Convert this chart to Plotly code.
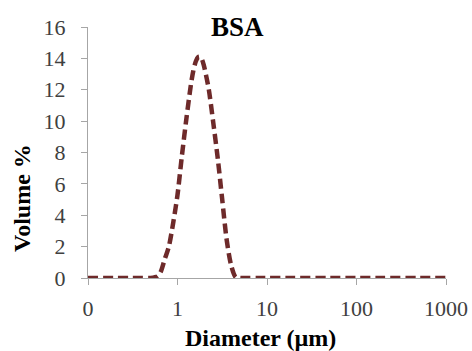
import plotly.graph_objects as go

diameter_um = [0.1, 0.15, 0.2, 0.3, 0.4, 0.5, 0.6, 0.65, 0.72, 0.8, 0.9, 1.0, 1.12, 1.26, 1.41,
               1.5, 1.6, 1.7, 1.78, 1.87, 1.96, 2.08, 2.24, 2.51, 2.82, 3.16, 3.55, 3.98, 4.47,
               5.0, 6.0, 8.0, 10.0, 20.0, 50.0, 100.0, 200.0, 500.0, 1000.0]
volume_pct = [0, 0, 0, 0, 0, 0, 0.1, 0.4, 1.2, 2.0, 3.6, 5.3, 7.8, 10.2, 12.3,
              13.2, 13.8, 14.08, 14.1, 13.95, 13.6, 12.95, 12.0, 9.9, 7.6, 5.0, 2.4, 0.8, 0.05,
              0, 0, 0, 0, 0, 0, 0, 0, 0, 0]

x_tickvals = [0.1, 1, 10, 100, 1000]
x_ticktext = ["0", "1", "10", "100", "1000"]
y_tickvals = [0, 2, 4, 6, 8, 10, 12, 14, 16]

serif = "Liberation Serif, Times New Roman, serif"

W, H = 472, 351
L, R, T, B = 88, 26, 27, 73
pw, ph = W - L - R, H - T - B

def px_x(x):
    return (x - L) / pw

def px_y(y):
    return (H - B - y) / ph

fig = go.Figure()
fig.add_trace(go.Scatter(
    x=diameter_um, y=volume_pct, mode="lines",
    line=dict(color="#6E2A2A", width=4.5, dash="10px,5px", shape="spline", smoothing=0.8),
    hoverinfo="skip", showlegend=False,
))

axis_common = dict(
    showline=True, linecolor="#A6A6A6", linewidth=1,
    ticks="outside", ticklen=6, tickcolor="#A6A6A6",
    showgrid=False, zeroline=False, automargin=False,
    tickfont=dict(family=serif, size=22, color="#404040"),
)

fig.update_layout(
    width=W, height=H,
    margin=dict(l=L, r=R, t=T, b=B, autoexpand=False),
    paper_bgcolor="white", plot_bgcolor="white",
    xaxis=dict(type="log", range=[-1, 3], tickvals=x_tickvals, ticktext=x_ticktext,
               ticklabelstandoff=5, **axis_common),
    yaxis=dict(range=[0, 16], tickvals=y_tickvals, ticklabelstandoff=11, **axis_common),
    annotations=[
        dict(text="<b>BSA</b>", x=px_x(237), y=px_y(27), xref="paper", yref="paper",
             xanchor="center", yanchor="middle", showarrow=False,
             font=dict(family=serif, size=27, color="black")),
        dict(text="<b>Diameter (µm)</b>", x=px_x(260), y=px_y(338), xref="paper", yref="paper",
             xanchor="center", yanchor="middle", showarrow=False,
             font=dict(family=serif, size=24, color="black")),
        dict(text="<b>Volume %</b>", x=px_x(22), y=px_y(198), xref="paper", yref="paper",
             xanchor="center", yanchor="middle", showarrow=False, textangle=-90,
             font=dict(family=serif, size=24, color="black")),
    ],
)

fig.write_html("out.html", config={"displayModeBar": False},
               post_script="document.body.style.margin='0';document.body.style.padding='0';")
